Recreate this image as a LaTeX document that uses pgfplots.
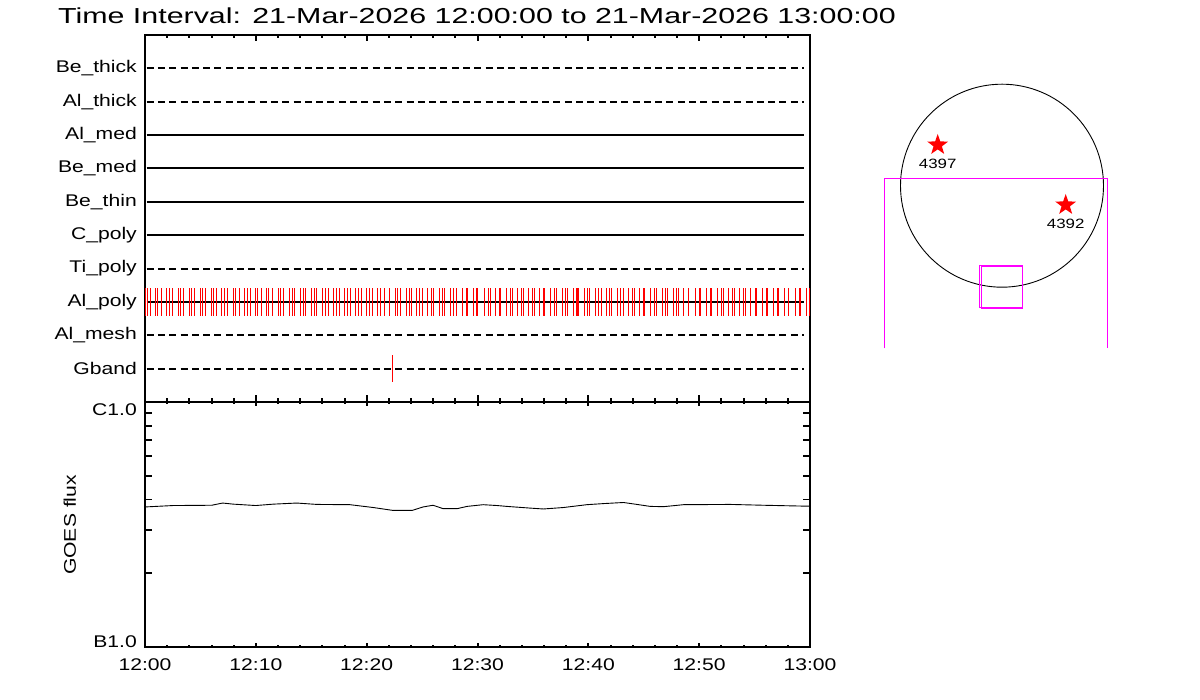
\documentclass[border=0pt]{standalone}
\usepackage{fontspec}
\setmainfont{Liberation Sans}[FakeStretch=1.25]
\newfontfamily\titlefont{Liberation Sans}[FakeStretch=1.4]
\usepackage{pgfplots}
\pgfplotsset{compat=1.18}
\usepackage{pgfplotstable}
\newcommand\lab{\fontsize{16.9}{19}\selectfont}
\definecolor{idlred}{RGB}{255,0,0}
\definecolor{idlmag}{RGB}{255,0,255}

\pgfdeclareplotmark{fstar}{%
  \pgfpathmoveto{\pgfpointpolar{90}{\pgfplotmarksize}}%
  \pgfpathlineto{\pgfpointpolar{126}{0.4\pgfplotmarksize}}%
  \pgfpathlineto{\pgfpointpolar{162}{\pgfplotmarksize}}%
  \pgfpathlineto{\pgfpointpolar{198}{0.4\pgfplotmarksize}}%
  \pgfpathlineto{\pgfpointpolar{234}{\pgfplotmarksize}}%
  \pgfpathlineto{\pgfpointpolar{270}{0.4\pgfplotmarksize}}%
  \pgfpathlineto{\pgfpointpolar{306}{\pgfplotmarksize}}%
  \pgfpathlineto{\pgfpointpolar{342}{0.4\pgfplotmarksize}}%
  \pgfpathlineto{\pgfpointpolar{18}{\pgfplotmarksize}}%
  \pgfpathlineto{\pgfpointpolar{54}{0.4\pgfplotmarksize}}%
  \pgfpathclose
  \pgfusepathqfill
}

\pgfplotstableread{
t flux
0     3.73e-7
2.53  3.78e-7
6.02  3.79e-7
7.01  3.87e-7
7.97  3.83e-7
9.99  3.78e-7
11.58 3.83e-7
13.69 3.87e-7
15.50 3.82e-7
18.50 3.81e-7
20.60 3.71e-7
22.38 3.61e-7
24.10 3.61e-7
25.09 3.73e-7
25.99 3.79e-7
26.90 3.67e-7
28.16 3.67e-7
29.06 3.75e-7
30.51 3.81e-7
31.77 3.78e-7
32.64 3.75e-7
34.75 3.69e-7
35.95 3.66e-7
37.75 3.71e-7
39.86 3.81e-7
41.36 3.85e-7
43.17 3.89e-7
44.38 3.82e-7
45.58 3.75e-7
46.78 3.74e-7
48.59 3.81e-7
52.80 3.82e-7
55.80 3.79e-7
59.41 3.76e-7
60    3.76e-7
}\goes

\begin{document}
\begin{tikzpicture}
\path[use as bounding box] (0pt,0pt) rectangle (1200pt,700pt);

\node[anchor=base west, inner sep=0pt, font=\titlefont\fontsize{21.7}{24}\selectfont] at (58pt,676.5pt)
  {Time Interval: 21-Mar-2026 12:00:00 to 21-Mar-2026 13:00:00};

% ---------------- top panel: channel lines ----------------
\begin{axis}[
  at={(145pt,298pt)}, anchor=south west, scale only axis,
  width=665pt, height=367pt,
  xmin=0, xmax=60, ymin=-1, ymax=10,
  xtick={0,10,...,60}, xticklabels={}, minor x tick num=4,
  ytick={0,...,9},
  yticklabels={Gband,Al\_mesh,Al\_poly,Ti\_poly,C\_poly,Be\_thin,Be\_med,Al\_med,Al\_thick,Be\_thick},
  tick align=inside, major tick length=6.5pt, minor tick length=3.5pt,
  xtick style={black, line width=2pt},
  ytick style={draw=none},
  axis line style={line width=2pt},
  yticklabel style={font=\lab, anchor=east, inner sep=0pt, xshift=-8pt},
  clip=false,
]
% red ticks on Al_poly
\addplot[idlred, only marks, mark=|, mark size=13.7pt, mark options={line width=0.9pt}] coordinates {
(0.05,2)(0.21,2)(0.48,2)(0.90,2)(1.15,2)(1.45,2)(1.93,2)(2.17,2)(2.44,2)(2.98,2)(3.20,2)(3.47,2)
(4.00,2)(4.22,2)(4.46,2)(5.00,2)(5.22,2)(5.46,2)(6.00,2)(6.20,2)(6.48,2)(6.93,2)(7.20,2)(7.44,2)
(7.96,2)(8.20,2)(8.53,2)(8.95,2)(9.20,2)(9.50,2)(9.95,2)(10.19,2)(10.52,2)(10.94,2)(11.18,2)(11.48,2)
(12.05,2)(12.23,2)(12.50,2)(13.05,2)(13.26,2)(13.50,2)(14.04,2)(14.26,2)(14.50,2)(15.04,2)(15.25,2)(15.49,2)
(16.03,2)(16.25,2)(16.58,2)(17.03,2)(17.24,2)(17.57,2)(18.02,2)(18.24,2)(18.56,2)(19.02,2)(19.23,2)(19.53,2)
(20.01,2)(20.23,2)(20.55,2)(21.00,2)(21.25,2)(21.58,2)(22.09,2)(22.63,2)(22.81,2)(23.06,2)(23.57,2)(23.84,2)
(24.05,2)(24.53,2)(24.80,2)(25.07,2)(25.52,2)(25.80,2)(26.07,2)(26.61,2)(26.82,2)(27.06,2)(27.60,2)(27.82,2)
(28.06,2)(28.60,2)(28.98,2)(29.05,2)(29.60,2)(29.95,2)(30.03,2)(30.59,2)(30.95,2)(31.13,2)(31.58,2)(31.95,2)
(32.10,2)(32.58,2)(32.94,2)(33.12,2)(33.57,2)(33.93,2)(34.11,2)(34.57,2)(34.93,2)(35.11,2)(35.56,2)(35.92,2)
(36.08,2)(36.56,2)(36.92,2)(37.10,2)(37.64,2)(37.91,2)(38.13,2)(38.64,2)(38.97,2)(39.06,2)(39.12,2)(39.63,2)
(39.94,2)(40.14,2)(40.63,2)(40.93,2)(41.14,2)(41.62,2)(41.93,2)(42.11,2)(42.59,2)(42.92,2)(43.13,2)(43.61,2)
(43.94,2)(44.12,2)(44.60,2)(44.94,2)(45.09,2)(45.63,2)(45.93,2)(46.11,2)(46.65,2)(46.93,2)(47.11,2)(47.65,2)
(47.92,2)(48.10,2)(48.62,2)(49.00,2)(49.06,2)(49.64,2)(50.03,2)(50.12,2)(50.63,2)(51.02,2)(51.15,2)(51.63,2)
(52.02,2)(52.17,2)(52.65,2)(53.01,2)(53.19,2)(53.64,2)(54.00,2)(54.16,2)(54.67,2)(55.04,2)(55.18,2)(55.67,2)
(56.03,2)(56.18,2)(56.66,2)(57.03,2)(57.18,2)(57.66,2)(58.04,2)(58.10,2)(58.68,2)(59.04,2)(59.10,2)(59.67,2)
(59.98,2)
};
% channel lines
\addplot[black, line width=2pt, dash pattern=on 7pt off 4.3pt] coordinates {(0.15,9) (59.5,9)};
\addplot[black, line width=2pt, dash pattern=on 7pt off 4.3pt] coordinates {(0.15,8) (59.5,8)};
\addplot[black, line width=2pt] coordinates {(0.15,7) (59.5,7)};
\addplot[black, line width=2pt] coordinates {(0.15,6) (59.5,6)};
\addplot[black, line width=2pt] coordinates {(0.15,5) (59.5,5)};
\addplot[black, line width=2pt] coordinates {(0.15,4) (59.5,4)};
\addplot[black, line width=2pt, dash pattern=on 7pt off 4.3pt] coordinates {(0.15,3) (59.5,3)};
\addplot[black, line width=2pt] coordinates {(0.15,2) (59.5,2)};
\addplot[black, line width=2pt, dash pattern=on 7pt off 4.3pt] coordinates {(0.15,1) (59.5,1)};
\addplot[black, line width=2pt, dash pattern=on 7pt off 4.3pt] coordinates {(0.15,0) (59.5,0)};
% red tick on Gband
\addplot[idlred, only marks, mark=|, mark size=13.4pt, mark options={line width=1pt}] coordinates {(22.32,0)};
\end{axis}

% ---------------- lower panel: GOES flux (frame, x ticks, curve) ----------------
\begin{axis}[
  at={(145pt,53pt)}, anchor=south west, scale only axis,
  width=665pt, height=245pt,
  xmin=0, xmax=60, ymode=log, ymin=1e-7, ymax=1e-6,
  xtick={0,10,...,60},
  xticklabels={12:00,12:10,12:20,12:30,12:40,12:50,13:00},
  minor x tick num=4,
  ytick=\empty,
  tick align=inside, major tick length=4pt, minor tick length=2pt,
  xtick style={black, line width=2pt},
  axis line style={line width=2pt},
  xticklabel style={font=\lab, anchor=north, inner sep=0pt, yshift=-11pt},
]
\addplot[black, line width=0.9pt] table[x=t, y=flux] {\goes};
\end{axis}

% ---------------- lower panel: y ticks and labels ----------------
\begin{axis}[
  at={(145pt,53pt)}, anchor=south west, scale only axis,
  width=665pt, height=245pt,
  xmin=0, xmax=60, ymode=log, ymin=1e-7, ymax=1e-6,
  xtick=\empty,
  ytick={1e-7,1e-6},
  yticklabels={B1.0,\raisebox{-13pt}{C1.0}},
  tick align=inside, major tick length=6.5pt, minor tick length=6.5pt,
  ytick style={black, line width=1.8pt},
  axis line style={draw=none},
  yticklabel style={font=\lab, anchor=base east, inner sep=0pt, xshift=-8pt},
  ylabel={GOES flux},
  ylabel style={at={(axis description cs:-0.113,0.498)}, anchor=center, font=\lab},
]
\end{axis}

% ---------------- right panel: solar disk map ----------------
\begin{axis}[
  at={(850pt,330pt)}, anchor=south west,
  x=1pt, y=1pt, xmin=850, xmax=1150, ymin=330, ymax=640,
  hide axis, clip=false, enlargelimits=false,
]
\draw[black, line width=0.9pt] (axis cs:1002,514.3) circle[radius=101.5pt];
\addplot[idlmag, line width=1pt] coordinates {(884.3,351.7) (884.3,521.7) (1107.3,521.7) (1107.3,351.7)};
\addplot[idlmag, line width=1pt] coordinates {(979.3,392.7) (979.3,434) (1022,434) (1022,392.7) (979.3,392.7)};
\addplot[idlmag, line width=1pt] coordinates {(981.3,391.7) (981.3,433.3) (1022.3,433.3) (1022.3,391.7) (981.3,391.7)};
\addplot[idlred, only marks, mark=fstar, mark size=11pt,
  nodes near coords, point meta=explicit symbolic,
  every node near coord/.append style={black, anchor=center, yshift=-19pt, inner sep=0pt,
    font=\fontsize{13.5}{15}\selectfont}]
  coordinates {(937.7,555) [4397] (1065.7,495) [4392]};
\end{axis}
\end{tikzpicture}
\end{document}
